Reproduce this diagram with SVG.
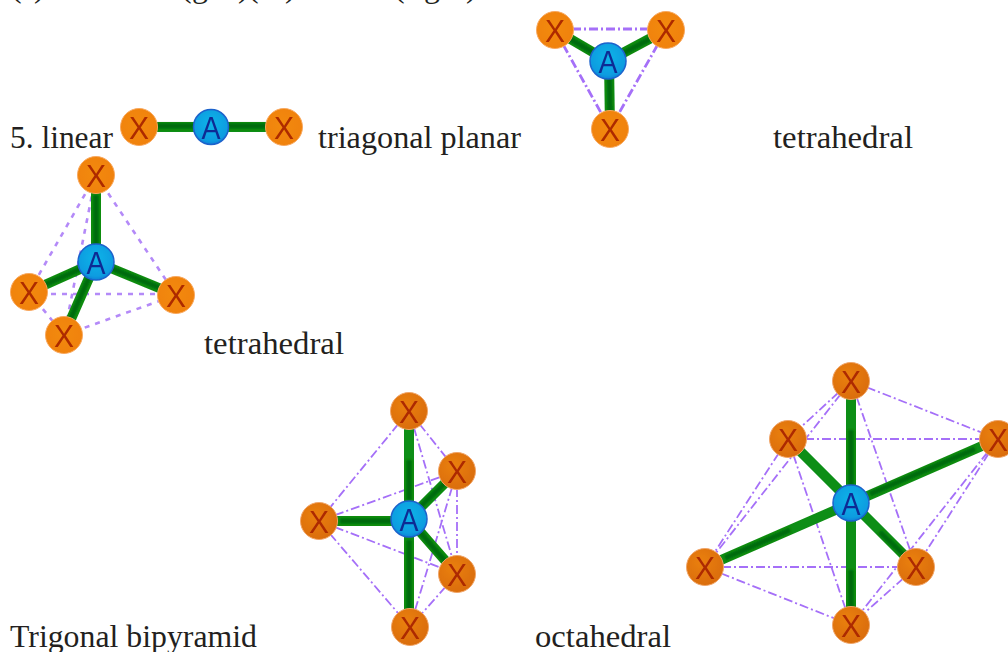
<svg xmlns="http://www.w3.org/2000/svg" width="1008" height="652" viewBox="0 0 1008 652">
<defs>
<radialGradient id="gx" cx="0.45" cy="0.45" r="0.65"><stop offset="0" stop-color="#f28a08"/><stop offset="1" stop-color="#f08008"/></radialGradient>
<radialGradient id="gd" cx="0.4" cy="0.35" r="0.75"><stop offset="0" stop-color="#ea8010"/><stop offset="1" stop-color="#d86a06"/></radialGradient>
<radialGradient id="ga" cx="0.5" cy="0.4" r="0.62"><stop offset="0" stop-color="#10b4e8"/><stop offset="0.8" stop-color="#0e9ce0"/><stop offset="1" stop-color="#0c7cd6"/></radialGradient>
<filter id="s" x="-5%" y="-5%" width="110%" height="110%"><feGaussianBlur stdDeviation="0.6"/></filter>
<filter id="m" filterUnits="userSpaceOnUse" x="0" y="0" width="1008" height="652"><feGaussianBlur stdDeviation="1.3"/></filter>
</defs>
<style>
text{font-family:"Liberation Serif","Times New Roman",serif;font-size:32px;fill:#231f20}
.b{stroke:#0c8e12;stroke-width:10;fill:none}
.c{stroke:#056a0a;stroke-width:5;fill:none;filter:url(#m)}
.d{stroke:#a56ff8;stroke-width:1.8;stroke-dasharray:9 3 2 3;fill:none}
.t{stroke:#a56ff8;stroke-width:2.8;stroke-dasharray:9 3 2 3;fill:none}
.h{stroke:#b48af8;stroke-width:2.6;stroke-dasharray:5 6;fill:none}
.x circle{fill:url(#gx);stroke:#f8a860;stroke-width:1}
.xd circle{fill:url(#gd);stroke:#f0a468;stroke-width:1}
.a circle{fill:url(#ga);stroke:#1c62cc;stroke-width:1.5}
.x text,.xd text,.a text{font-family:"Liberation Sans",Arial,sans-serif;font-size:32px}
.x text,.xd text{fill:#ad2a06}
.a text{fill:#0c2c94}
#connectors,.x,.xd,.a{filter:url(#s)}
</style>
<g id="labels">
<text x="11" y="-3">(</text><text x="34" y="-3">)</text>
<text x="181" y="-3">(</text><text x="192" y="-3">g</text><text x="238" y="-3">)</text>
<text x="248" y="-3">(</text><text x="285" y="-3">)</text>
<text x="394" y="-3">(</text><text x="424" y="-3">g</text><text x="466" y="-3">)</text>
<text x="10" y="148" textLength="103" lengthAdjust="spacingAndGlyphs">5. linear</text>
<text x="318" y="148" textLength="203" lengthAdjust="spacingAndGlyphs">triagonal planar</text>
<text x="773" y="148" textLength="140" lengthAdjust="spacingAndGlyphs">tetrahedral</text>
<text x="204" y="354" textLength="140" lengthAdjust="spacingAndGlyphs">tetrahedral</text>
<text x="10" y="647" textLength="247" lengthAdjust="spacingAndGlyphs">Trigonal bipyramid</text>
<text x="535" y="647" textLength="136" lengthAdjust="spacingAndGlyphs">octahedral</text>
</g>
<g id="connectors">
<path class="b" d="M139 127H284"/><path class="c" d="M155 126H270"/>
<path class="t" d="M555 29H666M555 30L610 129M666 30L610 129"/>
<path class="b" d="M555 30L608 61M666 30L608 61M609 61L610 129"/><path class="c" d="M570 39L608 61M650 39L608 61M609 61L610 112"/>
<path class="h" d="M96 175L29 292M96 175L176 295M96 175L64 335M29 294H176M29 292L64 335M64 335L176 295"/>
<path class="b" d="M96 175V262M29 292L96 262M176 295L96 262M64 335L96 262"/><path class="c" d="M96 195V245M42 286L96 262M160 288L96 262M70 320L96 262"/>
<path class="d" d="M409 411L319 521M409 411L457 471M409 411L457 574M319 521L457 471M319 521L457 574M319 521L410 627M457 471V574M457 471L410 627M457 574L410 627"/>
<path class="b" d="M409 411V627M319 521H409M457 471L409 519M457 574L409 519"/><path class="c" d="M409 460V500M409 540V610M340 521H395M445 483L420 507M445 561L420 532"/>
<path class="d" d="M851 381L788 439M851 381L998 439M851 381L705 567M851 381L916 567M788 439H998M788 439L705 567M788 439L851 625M998 439L916 567M998 439L851 625M705 567H916M705 567L851 625M916 567L851 625"/>
<path class="b" d="M851 381V625M788 439L916 567M705 567L998 439"/><path class="c" d="M851 430V488M851 570V610M880 532L905 556M725 558L790 530M870 494L975 449"/>
</g>
<g id="linear-x1" class="x"><circle cx="139" cy="127" r="18.5"/><text x="129" y="139" textLength="20" lengthAdjust="spacingAndGlyphs">X</text></g>
<g id="linear-a" class="a"><circle cx="211" cy="127" r="17.5"/><text x="201.500" y="139" textLength="19" lengthAdjust="spacingAndGlyphs">A</text></g>
<g id="linear-x2" class="x"><circle cx="284" cy="127" r="18.5"/><text x="274" y="139" textLength="20" lengthAdjust="spacingAndGlyphs">X</text></g>
<g id="trig-x1" class="x"><circle cx="555" cy="30" r="18.5"/><text x="545" y="42" textLength="20" lengthAdjust="spacingAndGlyphs">X</text></g>
<g id="trig-x2" class="x"><circle cx="666" cy="30" r="18.5"/><text x="656" y="42" textLength="20" lengthAdjust="spacingAndGlyphs">X</text></g>
<g id="trig-x3" class="x"><circle cx="610" cy="129" r="18.5"/><text x="600" y="141" textLength="20" lengthAdjust="spacingAndGlyphs">X</text></g>
<g id="trig-a" class="a"><circle cx="608" cy="61" r="18"/><text x="598.500" y="73" textLength="19" lengthAdjust="spacingAndGlyphs">A</text></g>
<g id="tet-x1" class="x"><circle cx="96" cy="175" r="18.5"/><text x="86" y="187" textLength="20" lengthAdjust="spacingAndGlyphs">X</text></g>
<g id="tet-x2" class="x"><circle cx="29" cy="292" r="18.5"/><text x="19" y="304" textLength="20" lengthAdjust="spacingAndGlyphs">X</text></g>
<g id="tet-x3" class="x"><circle cx="176" cy="295" r="18.5"/><text x="166" y="307" textLength="20" lengthAdjust="spacingAndGlyphs">X</text></g>
<g id="tet-x4" class="x"><circle cx="64" cy="335" r="18.5"/><text x="54" y="347" textLength="20" lengthAdjust="spacingAndGlyphs">X</text></g>
<g id="tet-a" class="a"><circle cx="96" cy="262" r="18"/><text x="86.500" y="274" textLength="19" lengthAdjust="spacingAndGlyphs">A</text></g>
<g id="bip-x1" class="xd"><circle cx="409" cy="411" r="18.5"/><text x="399" y="423" textLength="20" lengthAdjust="spacingAndGlyphs">X</text></g>
<g id="bip-x2" class="xd"><circle cx="457" cy="471" r="18.5"/><text x="447" y="483" textLength="20" lengthAdjust="spacingAndGlyphs">X</text></g>
<g id="bip-x3" class="xd"><circle cx="319" cy="521" r="18.5"/><text x="309" y="533" textLength="20" lengthAdjust="spacingAndGlyphs">X</text></g>
<g id="bip-x4" class="xd"><circle cx="457" cy="574" r="18.5"/><text x="447" y="586" textLength="20" lengthAdjust="spacingAndGlyphs">X</text></g>
<g id="bip-x5" class="xd"><circle cx="410" cy="627" r="18.5"/><text x="400" y="639" textLength="20" lengthAdjust="spacingAndGlyphs">X</text></g>
<g id="bip-a" class="a"><circle cx="409" cy="519" r="18"/><text x="399.500" y="531" textLength="19" lengthAdjust="spacingAndGlyphs">A</text></g>
<g id="oct-x1" class="xd"><circle cx="851" cy="381" r="18.5"/><text x="841" y="393" textLength="20" lengthAdjust="spacingAndGlyphs">X</text></g>
<g id="oct-x2" class="xd"><circle cx="788" cy="439" r="18.5"/><text x="778" y="451" textLength="20" lengthAdjust="spacingAndGlyphs">X</text></g>
<g id="oct-x3" class="xd"><circle cx="998" cy="439" r="18.5"/><text x="988" y="451" textLength="20" lengthAdjust="spacingAndGlyphs">X</text></g>
<g id="oct-x4" class="xd"><circle cx="705" cy="567" r="18.5"/><text x="695" y="579" textLength="20" lengthAdjust="spacingAndGlyphs">X</text></g>
<g id="oct-x5" class="xd"><circle cx="916" cy="567" r="18.5"/><text x="906" y="579" textLength="20" lengthAdjust="spacingAndGlyphs">X</text></g>
<g id="oct-x6" class="xd"><circle cx="851" cy="625" r="18.5"/><text x="841" y="637" textLength="20" lengthAdjust="spacingAndGlyphs">X</text></g>
<g id="oct-a" class="a"><circle cx="851" cy="503" r="18"/><text x="841.500" y="515" textLength="19" lengthAdjust="spacingAndGlyphs">A</text></g>
</svg>
